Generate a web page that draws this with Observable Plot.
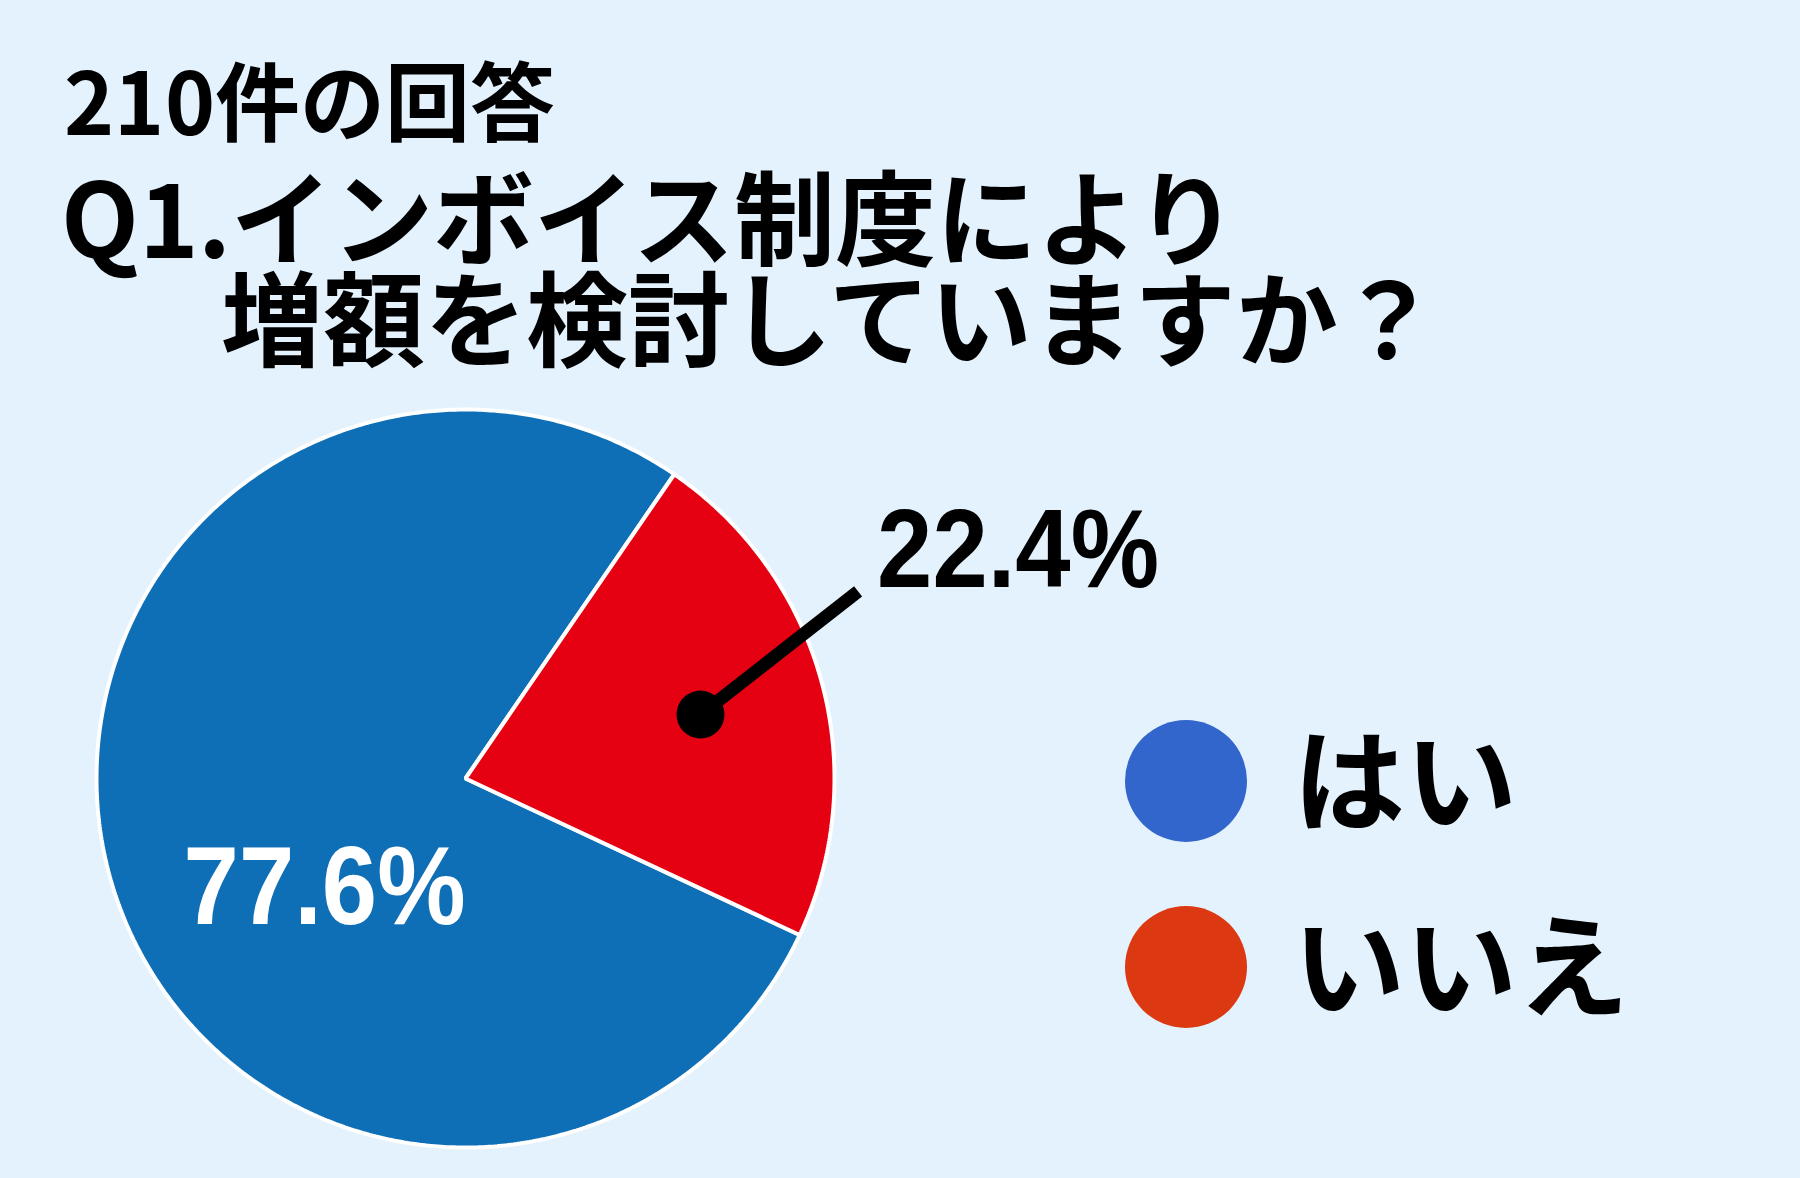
<!DOCTYPE html>
<html>
<head>
<meta charset="utf-8">
<script src="https://cdn.jsdelivr.net/npm/d3@7"></script>
<script src="https://cdn.jsdelivr.net/npm/@observablehq/plot@0.6"></script>
<style>
  @font-face {
    font-family: "TitleJP";
    src: local("Noto Sans CJK JP Bold"), local("NotoSansCJKjp-Bold"), local("Noto Sans CJK JP");
    font-weight: 700;
    ascent-override: 86%;
    descent-override: 10%;
    line-gap-override: 0%;
  }
  html, body { margin: 0; padding: 0; background: #E3F2FD; }
  #wrap { position: relative; width: 1800px; height: 1178px; overflow: hidden; font-family: "Noto Sans CJK JP", "Noto Sans", sans-serif; }
  #header { position: relative; width: 1800px; height: 400px; }
  .tline { position: absolute; line-height: 1; white-space: nowrap; color: #000; font-weight: 700; transform-origin: 0 50%;
           font-family: "TitleJP", "Noto Sans CJK JP", sans-serif; }
  .bmark { display: inline-block; width: 0; height: 0; vertical-align: baseline; }
  #legend { position: absolute; left: 1125px; top: 720px; }
  .lrow { position: absolute; left: 0; display: flex; align-items: center; white-space: nowrap; }
  .lsw { width: 122px; height: 122px; border-radius: 50%; }
  .ltx { margin-left: 46px; font-size: 112px; font-weight: 700; line-height: 1; color: #000; position: relative; top: -7px; }
</style>
</head>
<body>
<div id="wrap">
  <div id="header"></div>
  <div id="chart"></div>
  <div id="legend"></div>
</div>
<script>
// ---- data ----
const categories = ["はい", "いいえ"];
const values = [77.6, 22.4];
const valueLabels = ["77.6%", "22.4%"];
const pieColors = ["#0F6FB6", "#E50012"];
const legendColors = ["#3366CC", "#DC3912"];
const titleLines = ["210件の回答", "Q1.インボイス制度により", "増額を検討していますか？"];

// ---- layout ----
const W = 1800, H = 778;
const cx = 465, cy = 378, R = 369;
const startDeg = 115.1;

// title (baseline positions)
const titleStyle = [
  {left: 64, baseline: 134.5, size: 86, sx: 0.988},
  {left: 61, baseline: 258.4, size: 103, sx: 0.982},
  {left: 221, baseline: 359.4, size: 103, sx: 0.988}
];
const header = document.getElementById("header");
const titleEls = titleLines.map((t, i) => {
  const s = document.createElement("div");
  s.className = "tline";
  s.appendChild(document.createTextNode(t));
  const m = document.createElement("span");
  m.className = "bmark";
  s.appendChild(m);
  s.style.left = titleStyle[i].left + "px";
  s.style.top = "0px";
  s.style.fontSize = titleStyle[i].size + "px";
  s.style.transform = `scaleX(${titleStyle[i].sx})`;
  header.appendChild(s);
  return {s, m};
});
function placeTitles() {
  titleEls.forEach(({s, m}, i) => {
    s.style.top = "0px";
    const off = m.getBoundingClientRect().top - s.getBoundingClientRect().top;
    s.style.top = (titleStyle[i].baseline - off) + "px";
  });
}
placeTitles();
if (document.fonts && document.fonts.ready) document.fonts.ready.then(placeTitles);

// pie geometry from the data
const data = categories.map((c, i) => ({category: c, value: values[i], label: valueLabels[i], color: pieColors[i]}));
const a0 = startDeg * Math.PI / 180;
const arcs = d3.pie().sort(null).value(d => d.value).startAngle(a0).endAngle(a0 + 2 * Math.PI)(data);
const polar = (a, r) => ({x: Math.sin(a) * r, y: Math.cos(a) * r});

function slicePoints(arc) {
  const pts = [{x: 0, y: 0}];
  const n = Math.max(2, Math.ceil((arc.endAngle - arc.startAngle) / (Math.PI / 360)));
  for (let k = 0; k <= n; k++) {
    const a = arc.startAngle + (arc.endAngle - arc.startAngle) * k / n;
    pts.push(polar(a, 1));
  }
  return pts;
}

const sliceMarks = arcs.map(arc => Plot.line(slicePoints(arc), {
  x: "x", y: "y", fill: arc.data.color, stroke: "white", strokeWidth: 4,
  strokeLinejoin: "miter", curve: "linear-closed"
}));

// callout for the small slice
const small = arcs[1];
const smallMid = (small.startAngle + small.endAngle) / 2;
const dotPt = polar(smallMid, 0.66);
const leaderAngle = 52 * Math.PI / 180, leaderLen = 200 / R;
const leadEnd = {x: dotPt.x + Math.sin(leaderAngle) * leaderLen, y: dotPt.y + Math.cos(leaderAngle) * leaderLen};

// label inside the large slice
const big = arcs[0];
const bigMid = (big.startAngle + big.endAngle) / 2;
const bigLabelPt = polar(bigMid - 22.7 * Math.PI / 180, 0.484);

const chart = Plot.plot({
  width: W, height: H,
  margin: 0,
  x: {domain: [-1, 1], range: [cx - R, cx + R], axis: null},
  y: {domain: [-1, 1], range: [cy + R, cy - R], axis: null},
  style: {background: "transparent", overflow: "visible"},
  marks: [
    ...sliceMarks,
    Plot.link([{x1: dotPt.x, y1: dotPt.y, x2: leadEnd.x, y2: leadEnd.y}], {
      x1: "x1", y1: "y1", x2: "x2", y2: "y2", stroke: "black", strokeWidth: 13
    }),
    Plot.dot([dotPt], {x: "x", y: "y", r: 24, fill: "black"}),
    Plot.text([{...leadEnd, label: small.data.label}], {
      x: "x", y: "y", text: "label", textAnchor: "start", lineAnchor: "bottom",
      dx: 19, dy: -4, fontSize: 111, fontWeight: "bold", fill: "black",
      fontFamily: "Liberation Sans, Arial, sans-serif"
    }),
    Plot.text([{...bigLabelPt, label: big.data.label}], {
      x: "x", y: "y", text: "label", textAnchor: "middle", lineAnchor: "middle",
      fontSize: 111, fontWeight: "bold", fill: "white",
      fontFamily: "Liberation Sans, Arial, sans-serif"
    })
  ]
});
// condense the percentage labels to match the narrow lettering
chart.querySelectorAll("text").forEach(t => {
  if (valueLabels.includes(t.textContent)) {
    t.setAttribute("textLength", 282);
    t.setAttribute("lengthAdjust", "spacingAndGlyphs");
  }
});
document.getElementById("chart").appendChild(chart);

// legend
const legend = document.getElementById("legend");
categories.forEach((c, i) => {
  const row = document.createElement("div");
  row.className = "lrow";
  row.style.top = (i * 186) + "px";
  const sw = document.createElement("div");
  sw.className = "lsw";
  sw.style.background = legendColors[i];
  const tx = document.createElement("div");
  tx.className = "ltx";
  tx.textContent = c;
  row.appendChild(sw);
  row.appendChild(tx);
  legend.appendChild(row);
});
</script>
</body>
</html>
